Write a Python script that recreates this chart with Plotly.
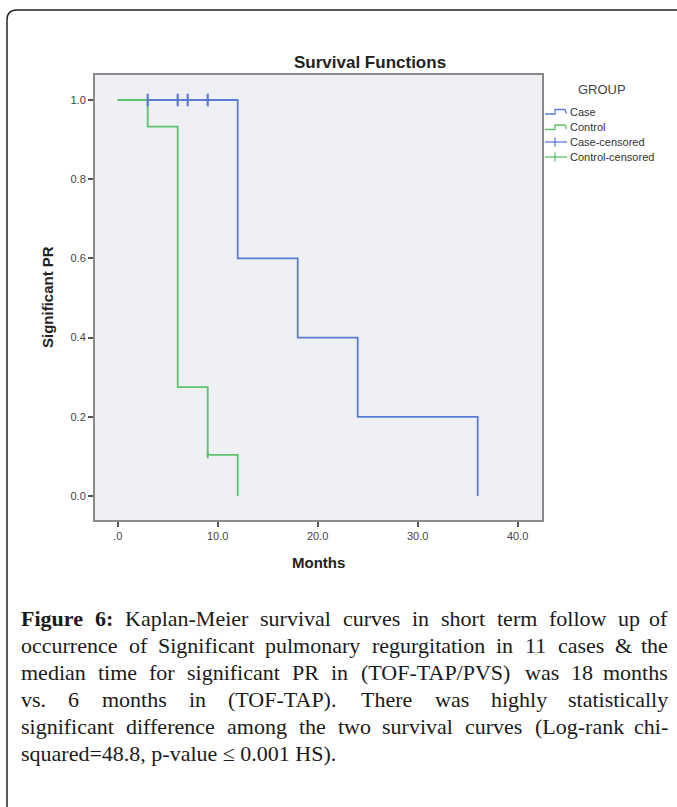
import plotly.graph_objects as go

# ---------------- data ----------------
case_months = [0, 12, 18, 24, 36]
case_survival = [1.0, 0.6, 0.4, 0.2, 0.0]
control_months = [0, 3, 6, 9, 12]
control_survival = [1.0, 0.933, 0.275, 0.104, 0.0]
case_censored_months = [3, 6, 7, 9]
case_censored_survival = [1.0, 1.0, 1.0, 1.0]
control_censored_months = [9]
control_censored_survival = [0.104]

x_tickvals = [0, 10, 20, 30, 40]
x_ticktext = [".0", "10.0", "20.0", "30.0", "40.0"]
y_tickvals = [0.0, 0.2, 0.4, 0.6, 0.8, 1.0]
y_ticktext = ["0.0", "0.2", "0.4", "0.6", "0.8", "1.0"]
legend_title = "GROUP"
legend_labels = ["Case", "Control", "Case-censored", "Control-censored"]

chart_title = "Survival Functions"
x_title = "Months"
y_title = "Significant PR"

caption_lines = [
    "<b>Figure</b> <b>6:</b> Kaplan-Meier survival curves in short term follow up of",
    "occurrence of Significant pulmonary regurgitation in 11 cases &amp; the",
    "median time for significant PR in (TOF-TAP/PVS) was 18 months",
    "vs. 6 months in (TOF-TAP). There was highly statistically",
    "significant difference among the two survival curves (Log-rank chi-",
    "squared=48.8, p-value \u2264 0.001 HS).",
]
caption_justified = [True, True, True, True, True, False]

# ---------------- layout geometry (pixels) ----------------
W, H = 677, 807
L, R, T, B = 95, 542, 75, 520

BLUE = "#5b7bd6"
GREEN = "#5cc46c"
TXT = "#222222"


def px(x):
    return (x - L) / (R - L)


def py(y):
    return (B - y) / (B - T)


fig = go.Figure()

fig.add_trace(go.Scatter(x=case_months, y=case_survival, mode="lines",
                         line=dict(color=BLUE, width=1.8, shape="hv"),
                         name=legend_labels[0], showlegend=False, hoverinfo="skip"))
fig.add_trace(go.Scatter(x=control_months, y=control_survival, mode="lines",
                         line=dict(color=GREEN, width=1.8, shape="hv"),
                         name=legend_labels[1], showlegend=False, hoverinfo="skip"))
fig.add_trace(go.Scatter(x=case_censored_months, y=case_censored_survival, mode="markers",
                         marker=dict(symbol="line-ns", size=9,
                                     line=dict(color=BLUE, width=2.2)),
                         name=legend_labels[2], showlegend=False, hoverinfo="skip"))
fig.add_trace(go.Scatter(x=control_censored_months, y=control_censored_survival, mode="markers",
                         marker=dict(symbol="line-ns", size=5,
                                     line=dict(color=GREEN, width=2)),
                         name=legend_labels[3], showlegend=False, hoverinfo="skip"))

x0_pix, x_per10 = 117.7, 100.0
y1_pix, y0_pix = 100.0, 496.0
x_range = [(L - x0_pix) / x_per10 * 10, (R - x0_pix) / x_per10 * 10]
y_unit = y0_pix - y1_pix
y_range = [-(B - y0_pix) / y_unit, 1 + (y1_pix - T) / y_unit]

axis_common = dict(showgrid=False, zeroline=False, showline=True, mirror=True,
                   linecolor="#8a8a8a", linewidth=2, ticks="outside", ticklen=5,
                   tickwidth=1.5, tickcolor="#555555",
                   tickfont=dict(family="Liberation Sans, Arial", size=11, color="#444444"))

fig.update_xaxes(range=x_range, tickvals=x_tickvals, ticktext=x_ticktext, **axis_common)
fig.update_yaxes(range=y_range, tickvals=y_tickvals, ticktext=y_ticktext, **axis_common)

annotations = []
shapes = []

# titles
annotations.append(dict(text="<b>%s</b>" % chart_title, x=px(370), y=py(62), xref="paper", yref="paper",
                        showarrow=False, xanchor="center", yanchor="middle",
                        font=dict(family="Liberation Sans, Arial", size=17, color=TXT)))
annotations.append(dict(text="<b>%s</b>" % x_title, x=px(318), y=py(562), xref="paper", yref="paper",
                        showarrow=False, xanchor="center", yanchor="middle",
                        font=dict(family="Liberation Sans, Arial", size=15, color=TXT)))
annotations.append(dict(text="<b>%s</b>" % y_title, x=px(47), y=py(297), xref="paper", yref="paper",
                        showarrow=False, xanchor="center", yanchor="middle", textangle=-90,
                        font=dict(family="Liberation Sans, Arial", size=15, color=TXT)))

# custom legend
annotations.append(dict(text=legend_title, x=px(602), y=py(90), xref="paper", yref="paper",
                        showarrow=False, xanchor="center", yanchor="middle",
                        font=dict(family="Liberation Sans, Arial", size=13, color="#444444")))
leg_y = [112, 127.5, 142, 157]
leg_col = [BLUE, GREEN, BLUE, GREEN]
for i, lab in enumerate(legend_labels):
    yc = leg_y[i]
    annotations.append(dict(text=lab, x=px(568), y=py(yc), xref="paper", yref="paper",
                            showarrow=False, xanchor="left", yanchor="middle",
                            font=dict(family="Liberation Sans, Arial", size=11, color="#333333")))
    if i < 2:
        path = "M %f,%f L %f,%f L %f,%f L %f,%f L %f,%f" % (
            px(545), py(yc + 2), px(555), py(yc + 2), px(555), py(yc - 2.5),
            px(565), py(yc - 2.5), px(566.5), py(yc + 1.5))
        shapes.append(dict(type="path", path=path, xref="paper", yref="paper",
                           line=dict(color=leg_col[i], width=1.3)))
    else:
        shapes.append(dict(type="line", x0=px(545), x1=px(567), y0=py(yc), y1=py(yc),
                           xref="paper", yref="paper", line=dict(color=leg_col[i], width=1.3)))
        shapes.append(dict(type="line", x0=px(555), x1=px(555), y0=py(yc - 4.5), y1=py(yc + 4.5),
                           xref="paper", yref="paper", line=dict(color=leg_col[i], width=1.3)))

# rounded frame (top-left corner visible)
rr = 10
frame = "M %f,%f L %f,%f Q %f,%f %f,%f L %f,%f" % (
    px(7), py(830), px(7), py(10 + rr), px(7), py(10), px(7 + rr), py(10), px(700), py(10))
shapes.append(dict(type="path", path=frame, xref="paper", yref="paper",
                   line=dict(color="#222222", width=1.5)))

# caption with justified lines (Times metrics for Liberation Serif)
TIMES = {' ': 250, '!': 333, '(': 333, ')': 333, ',': 250, '-': 333, '.': 250, '/': 278,
         ':': 278, ';': 278, '=': 564, '&': 778, '\u2264': 549,
         'A': 722, 'B': 667, 'C': 667, 'D': 722, 'E': 611, 'F': 556, 'G': 722, 'H': 722,
         'I': 333, 'J': 389, 'K': 722, 'L': 611, 'M': 889, 'N': 722, 'O': 722, 'P': 556,
         'Q': 722, 'R': 667, 'S': 556, 'T': 611, 'U': 722, 'V': 722, 'W': 944, 'X': 722,
         'Y': 722, 'Z': 611,
         'a': 444, 'b': 500, 'c': 444, 'd': 500, 'e': 444, 'f': 333, 'g': 500, 'h': 500,
         'i': 278, 'j': 278, 'k': 500, 'l': 278, 'm': 778, 'n': 500, 'o': 500, 'p': 500,
         'q': 500, 'r': 333, 's': 389, 't': 278, 'u': 500, 'v': 500, 'w': 722, 'x': 500,
         'y': 500, 'z': 444}
TIMES_B = {'F': 611, 'i': 278, 'g': 500, 'u': 556, 'r': 444, 'e': 444, '6': 500, ':': 333}
CAP_FS = 22
CAP_L, CAP_R = 20, 669
CAP_Y0, CAP_DY = 618, 27


def word_width(w):
    bold = w.startswith("<b>")
    s = w.replace("<b>", "").replace("</b>", "").replace("&amp;", "&")
    tbl = TIMES_B if bold else TIMES
    tot = 0
    for ch in s:
        if ch.isdigit() and ch not in tbl:
            tot += 500
        else:
            tot += tbl.get(ch, 500)
    return tot / 1000.0 * CAP_FS


cap_font = dict(family="Liberation Serif, Times New Roman, serif", size=CAP_FS, color="#1a1a1a")
for i, line in enumerate(caption_lines):
    yc = CAP_Y0 + CAP_DY * i
    if not caption_justified[i]:
        annotations.append(dict(text=line, x=px(CAP_L), y=py(yc), xref="paper", yref="paper",
                                showarrow=False, xanchor="left", yanchor="middle",
                                borderpad=0, font=cap_font))
        continue
    words = line.split(" ")
    widths = [word_width(w) for w in words]
    gaps = len(words) - 1
    gap = max((CAP_R - CAP_L - sum(widths)) / gaps, 0.2 * CAP_FS)
    xpos = CAP_L
    for j, (w, wd) in enumerate(zip(words, widths)):
        last = (j == len(words) - 1)
        annotations.append(dict(text=w, x=px(CAP_R if last else xpos), y=py(yc),
                                xref="paper", yref="paper",
                                showarrow=False, xanchor="right" if last else "left",
                                yanchor="middle", borderpad=0, font=cap_font))
        xpos += wd + gap

fig.update_layout(width=W, height=H, margin=dict(l=L, r=W - R, t=T, b=H - B),
                  paper_bgcolor="white", plot_bgcolor="#eef0f4",
                  showlegend=False, annotations=annotations, shapes=shapes)

fig.write_html("out.html", config={"displayModeBar": False},
               post_script="document.body.style.margin='0px';document.body.style.overflow='hidden';")
